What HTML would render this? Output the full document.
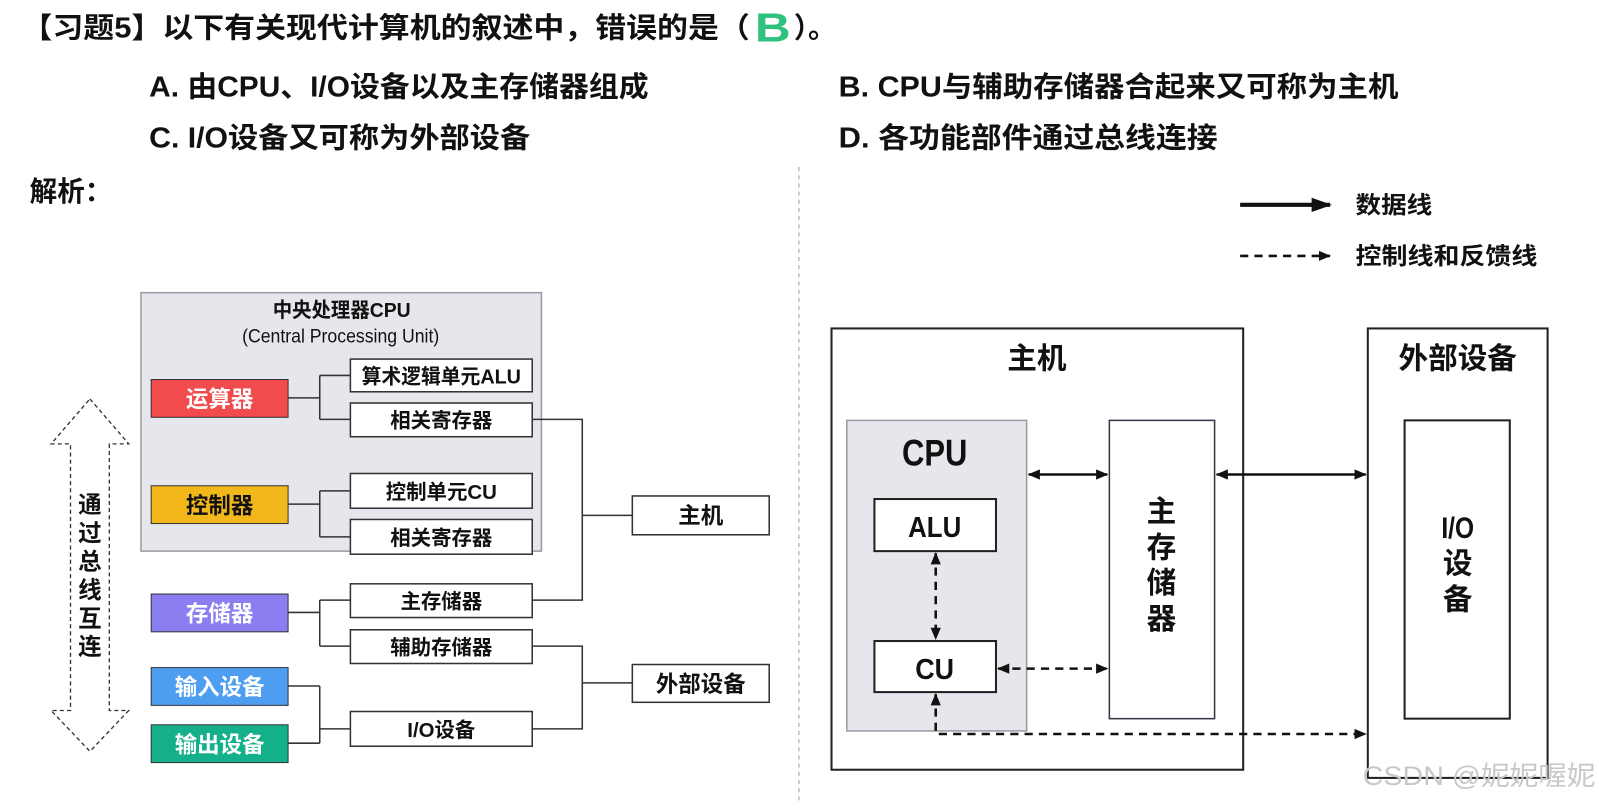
<!DOCTYPE html>
<html><head><meta charset="utf-8"><style>
body{margin:0;width:1599px;height:803px;background:#fff;overflow:hidden;font-family:"Liberation Sans","Noto Sans CJK SC",sans-serif;}
svg text{font-family:"Liberation Sans","Noto Sans CJK SC",sans-serif;font-weight:bold;}
</style></head><body>
<svg width="1599" height="803" viewBox="0 0 1599 803" xmlns="http://www.w3.org/2000/svg">
<defs>
<marker id="ah" markerWidth="12" markerHeight="12" refX="11" refY="6" orient="auto-start-reverse" markerUnits="userSpaceOnUse"><path d="M0,1 L12,6 L0,11 z" fill="#111"/></marker>
<marker id="ahb" markerWidth="20" markerHeight="14" refX="18" refY="7" orient="auto" markerUnits="userSpaceOnUse"><path d="M0,0 L20,7 L0,14 z" fill="#111"/></marker>
</defs>
<g transform="translate(-1,-1.5) scale(1.0215)">
<text x="22" y="38" font-size="28" fill="#111" textLength="713" lengthAdjust="spacingAndGlyphs">【习题5】以下有关现代计算机的叙述中，错误的是（</text>
<text x="740" y="42" font-size="40" fill="#2ec27e" textLength="35" lengthAdjust="spacingAndGlyphs">B</text>
<text x="778" y="38" font-size="28" fill="#111">）。</text>
<text x="147" y="96" font-size="28" fill="#111" textLength="489" lengthAdjust="spacingAndGlyphs">A. 由CPU、I/O设备以及主存储器组成</text>
<text x="822" y="96" font-size="28" fill="#111" textLength="548" lengthAdjust="spacingAndGlyphs">B. CPU与辅助存储器合起来又可称为主机</text>
<text x="147" y="146" font-size="28" fill="#111" textLength="373" lengthAdjust="spacingAndGlyphs">C. I/O设备又可称为外部设备</text>
<text x="822" y="146" font-size="28" fill="#111" textLength="371" lengthAdjust="spacingAndGlyphs">D. 各功能部件通过总线连接</text>
<text x="30" y="198" font-size="27" fill="#111">解析：</text>
<line x1="783" y1="165" x2="783" y2="803" stroke="#bbb" stroke-width="1.5" stroke-dasharray="4,4"/>
<line x1="1215" y1="202" x2="1303" y2="202" stroke="#111" stroke-width="4" marker-end="url(#ahb)"/>
<text x="1328" y="210" font-size="23" fill="#111" textLength="75" lengthAdjust="spacingAndGlyphs">数据线</text>
<line x1="1215" y1="252" x2="1303" y2="252" stroke="#111" stroke-width="2.5" stroke-dasharray="8,6" marker-end="url(#ah)"/>
<text x="1328" y="260" font-size="23" fill="#111" textLength="178" lengthAdjust="spacingAndGlyphs">控制线和反馈线</text>

<rect x="139" y="288" width="392" height="253" fill="#e6e7ec" stroke="#9a9aa0" stroke-width="1.5"/>
<text x="268" y="312" font-size="20" fill="#111" textLength="135" lengthAdjust="spacingAndGlyphs">中央处理器CPU</text>
<text x="238" y="337" font-size="19" fill="#111" style="font-weight:normal" textLength="193" lengthAdjust="spacingAndGlyphs">(Central Processing Unit)</text>
<g stroke="#333" stroke-width="1.5" fill="#fff">
<rect x="344" y="353" width="178" height="32"/>
<rect x="344" y="396" width="178" height="33"/>
<rect x="344" y="465" width="178" height="34"/>
<rect x="344" y="510" width="178" height="34"/>
<rect x="344" y="573" width="178" height="33"/>
<rect x="344" y="618" width="178" height="33"/>
<rect x="344" y="698" width="178" height="34"/>
<rect x="620" y="487" width="134" height="38"/>
<rect x="620" y="652" width="134" height="37"/>
</g>
<g stroke="#333" stroke-width="1">
<rect x="149" y="373" width="134" height="37" fill="#f24b4e"/>
<rect x="149" y="477" width="134" height="37" fill="#f2b71b"/>
<rect x="149" y="583" width="134" height="37" fill="#8b7ef0"/>
<rect x="149" y="655" width="134" height="37" fill="#4d9df0"/>
<rect x="149" y="711" width="134" height="37" fill="#13b08a"/>
</g>
<g font-size="22" text-anchor="middle" fill="#fff">
<text x="216" y="400">运算器</text>
<text x="216" y="504" fill="#111">控制器</text>
<text x="216" y="610">存储器</text>
<text x="216" y="682">输入设备</text>
<text x="216" y="738">输出设备</text>
</g>
<g font-size="20" text-anchor="middle" fill="#111">
<text x="433" y="377" textLength="156" lengthAdjust="spacingAndGlyphs">算术逻辑单元ALU</text>
<text x="433" y="420">相关寄存器</text>
<text x="433" y="490">控制单元CU</text>
<text x="433" y="535">相关寄存器</text>
<text x="433" y="597">主存储器</text>
<text x="433" y="642">辅助存储器</text>
<text x="433" y="723">I/O设备</text>
<text x="687" y="514" font-size="22">主机</text>
<text x="687" y="679" font-size="22">外部设备</text>
</g>
<g stroke="#333" stroke-width="1.5" fill="none">
<path d="M283,391 H314 M314,369 V412 M314,369 H344 M314,412 H344"/>
<path d="M283,495 H314 M314,482 V527 M314,482 H344 M314,527 H344"/>
<path d="M283,601 H314 M314,589 V634 M314,589 H344 M314,634 H344"/>
<path d="M283,673 H314 M283,729 H314 M314,673 V729 M314,715 H344"/>
<path d="M522,412 H571 V589 H522 M571,506 H620"/>
<path d="M522,634 H571 V715 H522 M571,670 H620"/>
</g>
<path d="M89,392 L127,436 L108,436 L108,697 L127,697 L89,737 L51,697 L70,697 L70,436 L51,436 Z" fill="none" stroke="#333" stroke-width="1.3" stroke-dasharray="4,3"/>
<g font-size="23" text-anchor="middle" fill="#111">
<text x="89" y="503">通</text><text x="89" y="531">过</text><text x="89" y="559">总</text><text x="89" y="587">线</text><text x="89" y="615">互</text><text x="89" y="642">连</text>
</g>

<rect x="815" y="323" width="403" height="432" fill="#fff" stroke="#222" stroke-width="2"/>
<rect x="1340" y="323" width="176" height="440" fill="#fff" stroke="#222" stroke-width="2"/>
<text x="1016" y="362" font-size="29" text-anchor="middle" fill="#111">主机</text>
<text x="1428" y="362" font-size="29" text-anchor="middle" fill="#111">外部设备</text>
<rect x="830" y="413" width="176" height="304" fill="#e6e7ec" stroke="#9a9aa0" stroke-width="1.5"/>
<text x="916" y="457" font-size="36" text-anchor="middle" fill="#111" textLength="64" lengthAdjust="spacingAndGlyphs">CPU</text>
<rect x="857" y="490" width="119" height="51" fill="#fff" stroke="#222" stroke-width="2"/>
<rect x="857" y="629" width="119" height="50" fill="#fff" stroke="#222" stroke-width="2"/>
<text x="916" y="527" font-size="28" text-anchor="middle" fill="#111" textLength="52" lengthAdjust="spacingAndGlyphs">ALU</text>
<text x="916" y="666" font-size="28" text-anchor="middle" fill="#111" textLength="38" lengthAdjust="spacingAndGlyphs">CU</text>
<rect x="1087" y="413" width="103" height="292" fill="#fff" stroke="#334" stroke-width="1.5"/>
<rect x="1376" y="413" width="103" height="292" fill="#fff" stroke="#222" stroke-width="2"/>
<g font-size="29" text-anchor="middle" fill="#111">
<text x="1138" y="512">主</text><text x="1138" y="547">存</text><text x="1138" y="582">储</text><text x="1138" y="617">器</text>
<text x="1428" y="528" textLength="32" lengthAdjust="spacingAndGlyphs">I/O</text><text x="1428" y="563">设</text><text x="1428" y="598">备</text>
</g>
<g stroke="#111" stroke-width="2.5" fill="none">
<line x1="1008" y1="466" x2="1085" y2="466" marker-start="url(#ah)" marker-end="url(#ah)"/>
<line x1="1192" y1="466" x2="1338" y2="466" marker-start="url(#ah)" marker-end="url(#ah)"/>
<line x1="917" y1="543" x2="917" y2="627" stroke-dasharray="8,6" marker-start="url(#ah)" marker-end="url(#ah)"/>
<line x1="978" y1="656" x2="1085" y2="656" stroke-dasharray="8,6" marker-start="url(#ah)" marker-end="url(#ah)"/>
<path d="M917,681 V720 H1338" stroke-dasharray="8,6" marker-start="url(#ah)" marker-end="url(#ah)"/>
</g>
<text x="1335" y="770" font-size="26" fill="#c8c8c8" style="font-weight:normal" textLength="228" lengthAdjust="spacingAndGlyphs">CSDN @妮妮喔妮</text>
</g>
</svg>
</body></html>
